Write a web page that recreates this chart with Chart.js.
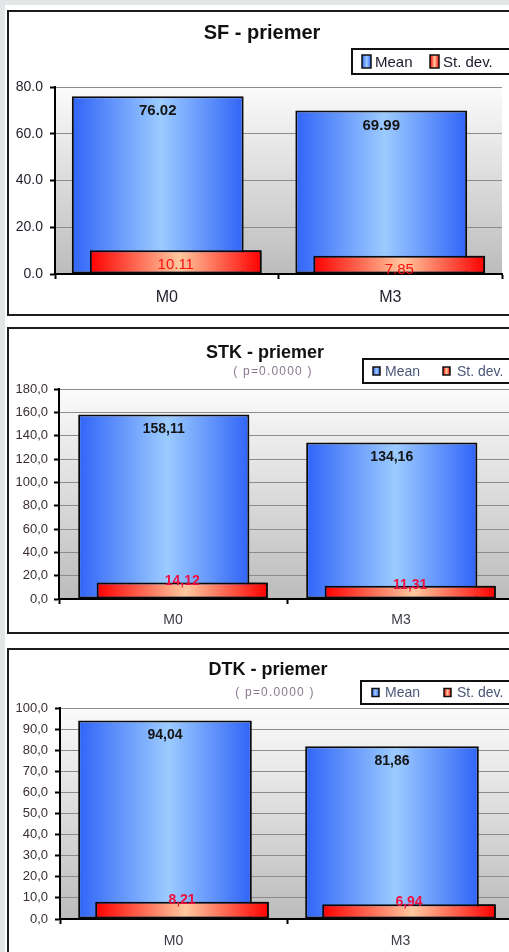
<!DOCTYPE html>
<html>
<head>
<meta charset="utf-8">
<script src="https://cdn.jsdelivr.net/npm/chart.js@4/dist/chart.umd.min.js"></script>
<style>
  html, body { margin: 0; padding: 0; width: 509px; height: 952px; overflow: hidden; background: #e3e6e7; }
  #sheet { position: absolute; left: 5px; top: 5px; width: 520px; height: 960px; background: #fff; }
  .panel { position: absolute; left: 7px; width: 515px; border: 2px solid #1c1c1c; background: #fff; }
  .panel canvas { display: block; }
</style>
</head>
<body>
<div id="sheet"></div>
<div class="panel" style="top:10px;height:302px"><canvas id="c1" width="515" height="302"></canvas></div>
<div class="panel" style="top:327px;height:303px"><canvas id="c2" width="515" height="303"></canvas></div>
<div class="panel" style="top:648px;height:316px"><canvas id="c3" width="515" height="316"></canvas></div>
<script>
// ---- data ----
const categories = ['M0', 'M3'];
const seriesNames = ['Mean', 'St. dev.'];

const sfMean = [76.02, 69.99];
const sfSd = [10.11, 7.85];
const stkMean = [158.11, 134.16];
const stkSd = [14.12, 11.31];
const dtkMean = [94.04, 81.86];
const dtkSd = [8.21, 6.94];

const sfTicks = ['0.0', '20.0', '40.0', '60.0', '80.0'];
const stkTicks = ['0,0', '20,0', '40,0', '60,0', '80,0', '100,0', '120,0', '140,0', '160,0', '180,0'];
const dtkTicks = ['0,0', '10,0', '20,0', '30,0', '40,0', '50,0', '60,0', '70,0', '80,0', '90,0', '100,0'];

const titles = ['SF - priemer', 'STK - priemer', 'DTK - priemer'];
const pNote = '( p=0.0000 )';

// ---- styling ----
const FONT = "'Liberation Sans', Arial, sans-serif";

const panels = [
  {
    canvas: 'c1', title: titles[0], note: null, mean: sfMean, sd: sfSd, ticks: sfTicks,
    max: 80, step: 20, sep: '.',
    pad: { left: 0, top: 75, right: 22, bottom: 0 }, yW: 46, xH: 40,
    catPct: 0.161, barPct: 9.55,
    yFont: 14, yPad: 7, yColor: '#1e1e2a',
    xFont: 16, xPad: 9, xColor: '#1e1e2a',
    titleFont: 'bold 20px', titlePos: [253, 21], notePos: null,
    meanFont: 'bold 15px', sdFont: '15px', meanOff: 15, sdOff: 14, sdColor: '#ff1010',
    legend: { x: 343, y: 37, h: 25, font: 15, color: '#1a1a2a', mW: 9, mH: 13,
              items: [[10, 23], [78, 91]] }
  },
  {
    canvas: 'c2', title: titles[1], note: pNote, mean: stkMean, sd: stkSd, ticks: stkTicks,
    max: 180, step: 20, sep: ',',
    pad: { left: 0, top: 60, right: 9, bottom: 0 }, yW: 50, xH: 33,
    catPct: 0.162, barPct: 9.27,
    yFont: 13, yPad: 6, yColor: '#3a3030',
    xFont: 14, xPad: 8, xColor: '#3a3a44',
    titleFont: 'bold 18px', titlePos: [256, 24], notePos: [264, 43],
    meanFont: 'bold 14px', sdFont: 'bold 14px', meanOff: 14.5, sdOff: -1, sdColor: '#f01040',
    legend: { x: 354, y: 30, h: 24, font: 14, color: '#4a5878', mW: 7, mH: 8,
              items: [[10, 22], [80, 94]] }
  },
  {
    canvas: 'c3', title: titles[2], note: pNote, mean: dtkMean, sd: dtkSd, ticks: dtkTicks,
    max: 100, step: 10, sep: ',',
    pad: { left: 0, top: 58, right: 10, bottom: 0 }, yW: 51, xH: 47,
    catPct: 0.15, barPct: 10.2,
    yFont: 13, yPad: 7, yColor: '#3a3030',
    xFont: 14, xPad: 9, xColor: '#3a3a44',
    titleFont: 'bold 18px', titlePos: [259, 20], notePos: [266, 43],
    meanFont: 'bold 14px', sdFont: 'bold 14px', meanOff: 15, sdOff: -2, sdColor: '#f01040',
    legend: { x: 352, y: 31, h: 23, font: 14, color: '#4a5878', mW: 7, mH: 8,
              items: [[11, 24], [83, 96]] }
  }
];

const barColors = [
  { edge: '#3064f8', mid: '#9ccbff' },   // Mean
  { edge: '#ff0000', mid: '#ffc89e' }    // St. dev.
];

function hGrad(ctx, x0, x1, c) {
  const g = ctx.createLinearGradient(x0, 0, x1, 0);
  g.addColorStop(0, c.edge);
  g.addColorStop(0.52, c.mid);
  g.addColorStop(1, c.edge);
  return g;
}

function fmt(v, sep) {
  return v.toFixed(2).replace('.', sep);
}

// plot background, bar gradients, value labels, title and legend
const decor = {
  id: 'decor',
  beforeDraw(chart) {
    const { ctx, chartArea: a } = chart;
    const g = ctx.createLinearGradient(0, a.top, 0, a.bottom);
    g.addColorStop(0, '#fbfbfb');
    g.addColorStop(1, '#bcbcbc');
    ctx.save();
    ctx.fillStyle = g;
    ctx.fillRect(a.left, a.top, a.right - a.left, a.bottom - a.top);
    ctx.restore();
  },
  beforeDatasetsDraw(chart) {
    const ctx = chart.ctx;
    chart.data.datasets.forEach((ds, di) => {
      chart.getDatasetMeta(di).data.forEach(el => {
        const x0 = el.x - el.width / 2, x1 = el.x + el.width / 2;
        el.options = Object.assign({}, el.options, {
          backgroundColor: hGrad(ctx, x0, x1, barColors[di]),
          borderColor: '#0a0a0a'
        });
      });
    });
  },
  afterDatasetsDraw(chart) {
    const p = chart.options.plugins.decor.panel;
    const ctx = chart.ctx;
    // the St. dev. bars sit in front of the Mean bars
    chart.getDatasetMeta(1).controller.draw();

    ctx.save();
    ctx.textAlign = 'center';
    ctx.textBaseline = 'middle';
    const meanMeta = chart.getDatasetMeta(0);
    ctx.font = p.meanFont + ' ' + FONT;
    ctx.fillStyle = '#141414';
    meanMeta.data.forEach((el, i) => {
      ctx.fillText(fmt(chart.data.datasets[0].data[i], p.sep), el.x, el.y + p.meanOff);
    });
    const sdMeta = chart.getDatasetMeta(1);
    ctx.font = p.sdFont + ' ' + FONT;
    ctx.fillStyle = p.sdColor;
    sdMeta.data.forEach((el, i) => {
      ctx.fillText(fmt(chart.data.datasets[1].data[i], p.sep), el.x, el.y + p.sdOff);
    });
    ctx.restore();
  },
  afterDraw(chart) {
    const p = chart.options.plugins.decor.panel;
    const ctx = chart.ctx;
    ctx.save();
    ctx.textAlign = 'center';
    ctx.textBaseline = 'middle';
    ctx.fillStyle = '#111';
    ctx.font = p.titleFont + ' ' + FONT;
    ctx.fillText(p.title, p.titlePos[0], p.titlePos[1]);
    if (p.note) {
      ctx.font = '12px ' + FONT;
      ctx.fillStyle = '#8a7890';
      ctx.letterSpacing = '1.2px';
      ctx.fillText(p.note, p.notePos[0], p.notePos[1]);
      ctx.letterSpacing = '0px';
    }
    // legend box
    const L = p.legend;
    ctx.fillStyle = '#fff';
    ctx.fillRect(L.x, L.y, chart.width - L.x + 10, L.h);
    ctx.strokeStyle = '#111';
    ctx.lineWidth = 2;
    ctx.strokeRect(L.x, L.y, chart.width - L.x + 10, L.h);
    ctx.textAlign = 'left';
    ctx.font = L.font + 'px ' + FONT;
    const cy = L.y + L.h / 2;
    chart.data.datasets.forEach((ds, di) => {
      const [mx, tx] = L.items[di];
      const x = L.x + mx;
      ctx.fillStyle = hGrad(ctx, x, x + L.mW, barColors[di]);
      ctx.fillRect(x, cy - L.mH / 2, L.mW, L.mH);
      ctx.lineWidth = 1.5;
      ctx.strokeStyle = '#111';
      ctx.strokeRect(x, cy - L.mH / 2, L.mW, L.mH);
      ctx.fillStyle = L.color;
      ctx.fillText(ds.label, L.x + tx, cy + 1);
    });
    ctx.restore();
  }
};

panels.forEach(p => {
  new Chart(document.getElementById(p.canvas), {
    type: 'bar',
    data: {
      labels: categories,
      datasets: [
        { label: seriesNames[0], data: p.mean, backgroundColor: barColors[0].edge, borderColor: '#0a0a0a' },
        { label: seriesNames[1], data: p.sd, backgroundColor: barColors[1].edge, borderColor: '#0a0a0a' }
      ]
    },
    options: {
      responsive: false,
      animation: false,
      events: [],
      layout: { padding: p.pad },
      datasets: {
        bar: {
          categoryPercentage: p.catPct,
          barPercentage: p.barPct,
          borderWidth: 2,
          borderSkipped: false,
          inflateAmount: 0
        }
      },
      plugins: {
        colors: { enabled: false },
        legend: { display: false },
        title: { display: false },
        tooltip: { enabled: false },
        decor: { panel: p }
      },
      scales: {
        x: {
          offset: true,
          afterFit: s => { s.height = p.xH; },
          border: { display: true, color: '#000', width: 2 },
          grid: { offset: true, drawOnChartArea: false, tickLength: 5, tickColor: '#000', tickWidth: 2 },
          ticks: { color: p.xColor, padding: p.xPad, font: { family: FONT, size: p.xFont } }
        },
        y: {
          min: 0, max: p.max,
          afterFit: s => { s.width = p.yW; },
          border: { display: true, color: '#000', width: 2 },
          grid: { color: '#8c8c8c', lineWidth: 1, tickLength: 5, tickColor: '#000', tickWidth: 2 },
          ticks: {
            stepSize: p.step, color: p.yColor, padding: p.yPad,
            font: { family: FONT, size: p.yFont },
            callback: (v, i) => p.ticks[i]
          }
        }
      }
    },
    plugins: [decor]
  });
});
</script>
</body>
</html>
